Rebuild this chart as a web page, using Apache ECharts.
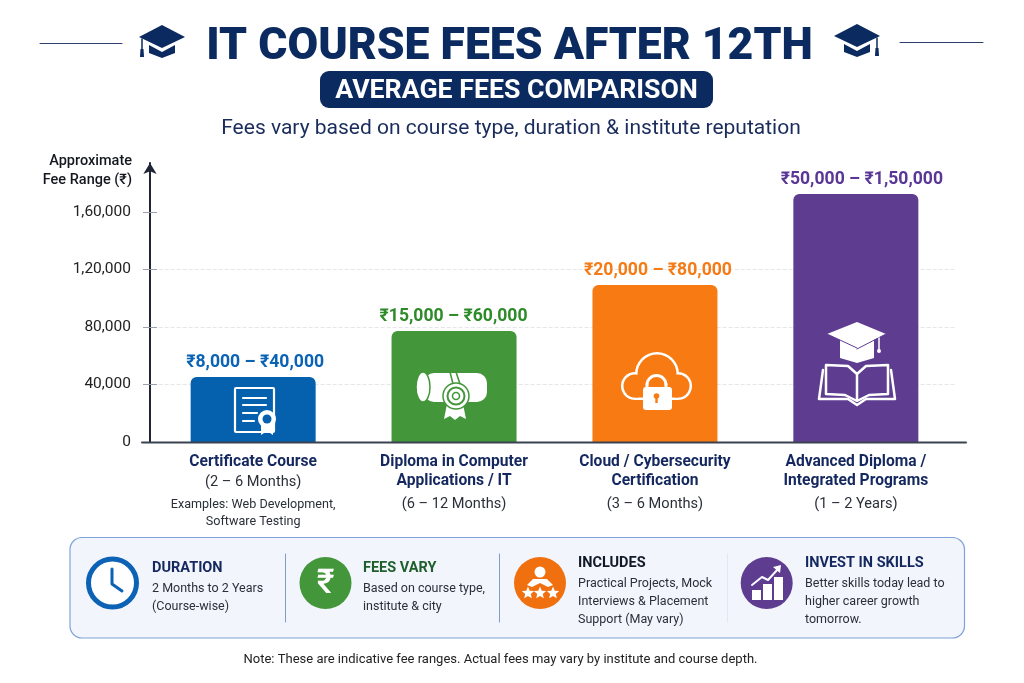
<!DOCTYPE html>
<html><head><meta charset="utf-8">
<style>html,body{margin:0;padding:0;background:#fff}#c{width:1024px;height:683px}</style>
<script src="https://cdn.jsdelivr.net/npm/echarts@6/dist/echarts.min.js"></script>
</head><body><div id="c"></div>
<script>
const categories=['Certificate Course','Diploma in Computer\nApplications / IT','Cloud / Cybersecurity\nCertification','Advanced Diploma /\nIntegrated Programs'];
const durations=['(2 – 6 Months)','(6 – 12 Months)','(3 – 6 Months)','(1 – 2 Years)'];
const examples=['Examples: Web Development,','Software Testing'];
const barHeights=[45200,77200,109200,172500];
const rangeLabels=['₹8,000 – ₹40,000','₹15,000 – ₹60,000','₹20,000 – ₹80,000','₹50,000 – ₹1,50,000'];
const barColors=['#0560ae','#43963a','#f77b12','#5e3d91'];
const labelColors=['#0b63b5','#2e8b2a','#f47b16','#5a3796'];
const tickValues=[0,40000,80000,120000,160000];
const tickLabels=['0','40,000','80,000','1,20,000','1,60,000'];
const labelNudge=[2,-0.5,3,6];
const F='Roboto, "Noto Sans", sans-serif';
const NAVY='#14285f';

const g=[];
const Z=10;
const R=(x,y,w,h,fill,r,stroke,lw)=>g.push({type:'rect',z:Z,shape:{x,y,width:w,height:h,r:r||0},style:{fill:fill||'none',stroke:stroke||null,lineWidth:lw||0}});
const C=(cx,cy,r,fill,stroke,lw)=>g.push({type:'circle',z:Z,shape:{cx,cy,r},style:{fill:fill||'none',stroke:stroke||null,lineWidth:lw||0}});
const L=(pts,stroke,lw)=>g.push({type:'polyline',z:Z,shape:{points:pts},style:{stroke,lineWidth:lw,fill:'none',lineCap:'round',lineJoin:'round'}});
const P=(pts,fill)=>g.push({type:'polygon',z:Z,shape:{points:pts},style:{fill}});
const A=(cx,cy,r,sa,ea,stroke,lw)=>g.push({type:'arc',z:Z,shape:{cx,cy,r,startAngle:sa,endAngle:ea},style:{stroke,lineWidth:lw,fill:'none'}});
const T=(text,x,y,size,fill,weight,align)=>g.push({type:'text',z:Z,style:{text,x,y:y+1.5,fill,fontSize:size,fontWeight:weight||400,fontFamily:F,align:align||'left',verticalAlign:'middle'}});
const star=(cx,cy,r,fill)=>{const p=[];for(let i=0;i<10;i++){const a=-Math.PI/2+i*Math.PI/5,q=i%2?r*0.45:r;p.push([cx+q*Math.cos(a),cy+q*Math.sin(a)]);}P(p,fill);};

// header decoration
L([[40,43.5],[122,43.5]],'#2c3e6e',1);
L([[900,42.5],[983,42.5]],'#2c3e6e',1);
function bigCap(x,y,tx){
  P([[x,y+12],[x+23,y],[x+46,y+12],[x+23,y+23]],'#0b2a5f');
  P([[x+10,y+20],[x+23,y+27],[x+36,y+20],[x+36,y+28],[x+23,y+33],[x+10,y+28]],'#0b2a5f');
  L([[tx,y+14],[tx,y+28]],'#0b2a5f',1.5);
  P([[tx-1.5,y+24],[tx+1.5,y+24],[tx+2,y+32],[tx-2,y+32]],'#0b2a5f');
}
bigCap(139,25,142); bigCap(834,24,877);
R(320,71,393,37,'#0b2a5f',9);
T('AVERAGE FEES COMPARISON',516.5,89.5,26.7,'#fff',700,'center');
T('Fees vary based on course type, duration & institute reputation',511,127.5,21,'#1a2c5c',400,'center');

// full baseline across the plot
L([[142,442.5],[966,442.5]],'#3a4252',2);

// certificate icon
R(235,388,39,44,'none',1,'#fff',2.2);
[[398,266],[405,266],[413,257],[421,254]].forEach(a=>L([[243,a[0]],[a[1],a[0]]],'#fff',2.2));
P([[261,422],[261,435],[267,431],[273,435],[273,422]],'#fff');
C(267,419,9,'#fff'); C(267,419,4.5,'#0560ae');

// diploma icon
R(424,373,63,29,'#fff',10);
g.push({type:'ellipse',z:Z,shape:{cx:423,cy:387,rx:7,ry:15},style:{fill:'#fff',stroke:'#43963a',lineWidth:1.5}});
L([[450,372],[453,384]],'#43963a',1.6);L([[456,372],[460,384]],'#43963a',1.6);
P([[447,404],[444,419],[450,416],[455,420],[460,416],[466,419],[463,404]],'#fff');
C(456,396,13,'#fff','#43963a',1.5);C(456,396,8.5,'none','#43963a',2);C(456,396,3.5,'none','#43963a',1.6);

// cloud + lock icon
const OR='#f77b12';
C(635,386,14,'#fff');C(657,374,22,'#fff');C(678,386,14,'#fff');R(635,385,43,15,'#fff');
C(635,386,11.5,OR);C(657,374,19.5,OR);C(678,386,11.5,OR);R(635,380,43,17.5,OR);
A(656.5,385,9.5,Math.PI,2*Math.PI,'#fff',3);L([[647,385],[647,390]],'#fff',3);L([[666,385],[666,390]],'#fff',3);
R(643,387,29,23,'#fff',3);C(656.5,396,2.8,OR);R(655.3,397,2.4,6,OR);

// cap + book icon
const PU='#5e3d91';
P([[840,340],[874,340],[874,358],[857,363],[840,358]],'#fff');
P([[827,334],[857,322],[886,334],[857,348]],'#fff');
L([[857,348],[827,334]],PU,1);L([[857,349],[886,334]],PU,1);
L([[879,338],[879,350]],'#fff',1.5);C(879,351,2,'#fff');
L([[857,374],[848,366],[826,365],[826,394],[845,395],[857,401],[869,395],[888,394],[888,365],[866,366],[857,374],[857,400]],'#fff',2.5);
L([[823,370],[819,399],[848,399],[857,405],[866,399],[895,399],[891,370]],'#fff',2.5);

// info panel
R(70,537.5,894.5,100.5,'#f2f5fb',12,'#7fa3d8',1.2);
L([[285.5,554],[285.5,622]],'#7d9fc4',1);L([[499.5,554],[499.5,622]],'#7d9fc4',1);L([[727.5,554],[727.5,622]],'#e2e7f0',1);
C(112.5,583,24,'#fff','#0c62b4',5);
L([[112,569],[112,584],[122,591]],'#0c62b4',3);
C(325.5,583,26,'#43963a');
T('₹',325.5,582.5,34,'#fff',500,'center');
C(540,583,26,'#f0700f');
C(540,572,5.5,'#fff');
P([[527,585],[533,579],[547,579],[553,585],[548,587],[540,583],[532,587]],'#fff');
star(528,593,6.5,'#fff');star(540,593,6.5,'#fff');star(553,593,6.5,'#fff');
C(766.7,583,26,'#5e3d91');
R(752,590,9,10,'#fff');R(763,584,9,16,'#fff');R(774,577,9,23,'#fff');
L([[752,585],[762,577],[768,580],[778,569]],'#fff',2);
P([[773,567],[781,565],[780,573]],'#fff');

const panelHeads=[['DURATION',152,567,'#14285f'],['FEES VARY',363,567,'#1f5f2b'],['INCLUDES',578,562,'#111827'],['INVEST IN SKILLS',805,562,'#14285f']];
const panelBodies=[['2 Months to 2 Years','(Course-wise)'],['Based on course type,','institute & city'],['Practical Projects, Mock','Interviews & Placement','Support (May vary)'],['Better skills today lead to','higher career growth','tomorrow.']];
panelHeads.forEach((h,i)=>{
  T(h[0],h[1],h[2],14.5,h[3],700);
  panelBodies[i].forEach((s,j)=>T(s,h[1],h[2]+20+j*18,12.5,'#2b2f38',400));
});
T('Note: These are indicative fee ranges. Actual fees may vary by institute and course depth.',500.5,658,13,'#222',400,'center');

const chart=echarts.init(document.getElementById('c'),null,{renderer:'canvas'});
const yCommon={type:'value',min:0,max:194000,interval:40000,position:'left',offset:2.7};
chart.setOption({
  backgroundColor:'#ffffff',
  animation:false,
  textStyle:{fontFamily:F},
  title:{text:'IT COURSE FEES AFTER 12TH',left:504.5,top:20,textAlign:'center',textStyle:{fontFamily:F,fontSize:44.5,fontWeight:900,color:'#0b2a5f'}},
  grid:{left:152.7,right:67.7,top:163,bottom:241,containLabel:false},
  xAxis:{type:'category',data:categories,
    axisLine:{show:false},axisTick:{show:false},
    axisLabel:{interval:0,margin:11,align:'center',verticalAlign:'top',
      formatter:(v,i)=>{
        const parts=v.split('\n');
        let out=parts.map(s=>'{n|'+s+'}').join('\n');
        out+='\n{'+(parts.length>1?'d2':'d1')+'|'+durations[i]+'}';
        if(i===0) out+='\n{e1|'+examples[0]+'}\n{e2|'+examples[1]+'}';
        return out;
      },
      rich:{
        n:{fontFamily:F,fontSize:15.6,fontWeight:700,color:NAVY,lineHeight:19,align:'center'},
        d1:{fontFamily:F,fontSize:14.6,color:'#2b2f38',lineHeight:21,align:'center'},
        d2:{fontFamily:F,fontSize:14.6,color:'#2b2f38',lineHeight:27,align:'center'},
        e1:{fontFamily:F,fontSize:12.6,color:'#2b2f38',lineHeight:23,align:'center'},
        e2:{fontFamily:F,fontSize:12.6,color:'#2b2f38',lineHeight:11,align:'center'}
      }}},
  yAxis:[
    Object.assign({},yCommon,{
      name:'Approximate\nFee Range (₹)',nameLocation:'end',nameGap:-27,
      nameTextStyle:{align:'right',verticalAlign:'bottom',color:'#14171f',fontFamily:F,fontSize:14.5,fontWeight:500,lineHeight:19,padding:[0,18,0,0]},
      axisLine:{show:true,lineStyle:{color:'#1f2533',width:2},symbol:['none','arrow'],symbolSize:[10,11],symbolOffset:[0,0]},
      axisTick:{show:true,length:7,customValues:tickValues,lineStyle:{color:'#9aa0aa'}},
      axisLabel:{margin:19,fontFamily:F,fontSize:15.5,color:'#222',customValues:tickValues,padding:[2,0,0,0],
        formatter:v=>tickLabels[tickValues.indexOf(v)]||''},
      splitLine:{show:true,showMaxLine:false,lineStyle:{color:'#e4e6ea',type:'dashed',width:1}}
    }),
    Object.assign({},yCommon,{
      axisLine:{show:false},
      axisTick:{show:true,inside:true,length:7,customValues:tickValues,lineStyle:{color:'#9aa0aa'}},
      axisLabel:{show:false},splitLine:{show:false}
    })
  ],
  series:[{type:'bar',barWidth:125,yAxisIndex:0,
    data:barHeights.map((v,i)=>({value:v,itemStyle:{color:barColors[i],borderRadius:[6,6,0,0]},
      label:{show:true,position:'top',distance:5.5,offset:[labelNudge[i],0],formatter:rangeLabels[i],color:labelColors[i],fontFamily:F,fontSize:17.6,fontWeight:700}}))
  }],
  graphic:{elements:g}
});
</script></body></html>
